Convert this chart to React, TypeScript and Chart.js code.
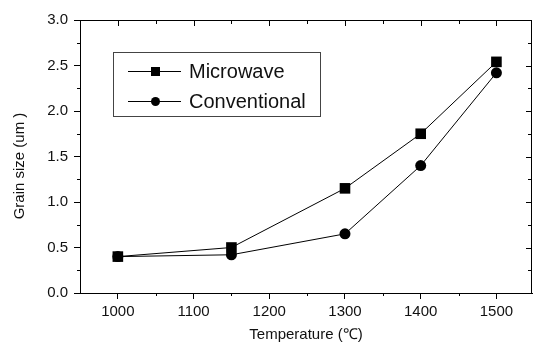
import React, { useEffect, useRef } from "react";
import { Chart, registerables } from "chart.js";

Chart.register(...registerables);

const temperatures = [1000, 1150, 1300, 1400, 1500];
const microwave = [0.4, 0.5, 1.15, 1.75, 2.54];
const conventional = [0.4, 0.42, 0.65, 1.4, 2.42];
const seriesLabels = ["Microwave", "Conventional"];
const xTickValues = [1000, 1100, 1200, 1300, 1400, 1500];
const xMinorValues = [950, 1050, 1150, 1250, 1350, 1450];
const yTickValues = [0, 0.5, 1.0, 1.5, 2.0, 2.5, 3.0];
const yMinorValues = [0.25, 0.75, 1.25, 1.75, 2.25, 2.75];
const xTitle = "Temperature (\u2103)";
const yTitle = "Grain size (um )";

const FONT = "'Liberation Sans', Arial, sans-serif";

const framePlugin = {
  id: "framePlugin",
  afterDraw(chart: any) {
    const ctx = chart.ctx;
    const { left, right, top, bottom } = chart.chartArea;
    const xs = chart.scales.x;
    const ys = chart.scales.y;
    ctx.save();
    ctx.strokeStyle = "#000";
    ctx.lineWidth = 1;
    ctx.beginPath();
    ctx.moveTo(left, top + 0.5);
    ctx.lineTo(right, top + 0.5);
    ctx.moveTo(right - 0.5, top);
    ctx.lineTo(right - 0.5, bottom);
    ctx.stroke();
    ctx.beginPath();
    xTickValues.forEach((v) => {
      const px = Math.round(xs.getPixelForValue(v)) + 0.5;
      ctx.moveTo(px, top);
      ctx.lineTo(px, top + 6);
    });
    xMinorValues.forEach((v) => {
      const px = Math.round(xs.getPixelForValue(v)) + 0.5;
      if (px <= left + 1 || px >= right - 1) return;
      ctx.moveTo(px, top);
      ctx.lineTo(px, top + 4);
      ctx.moveTo(px, bottom);
      ctx.lineTo(px, bottom + 3);
    });
    yTickValues.forEach((v) => {
      const py = Math.round(ys.getPixelForValue(v)) + 0.5;
      ctx.moveTo(right, py);
      ctx.lineTo(right - 6, py);
    });
    yMinorValues.forEach((v) => {
      const py = Math.round(ys.getPixelForValue(v)) + 0.5;
      ctx.moveTo(right, py);
      ctx.lineTo(right - 4, py);
      ctx.moveTo(left, py);
      ctx.lineTo(left - 3, py);
    });
    ctx.stroke();

    ctx.fillStyle = "#111";
    ctx.font = `15px ${FONT}`;
    ctx.textAlign = "center";
    ctx.textBaseline = "alphabetic";
    ctx.fillText(xTitle, (left + right) / 2, 339);
    ctx.save();
    ctx.translate(24, 166);
    ctx.rotate(-Math.PI / 2);
    ctx.fillText(yTitle, 0, 0);
    ctx.restore();

    const bx = 113, by = 52, bw = 207, bh = 64;
    ctx.strokeStyle = "#444";
    ctx.strokeRect(bx + 0.5, by + 0.5, bw, bh);
    const rows = [71, 101];
    chart.data.datasets.forEach((ds: any, i: number) => {
      const cy = rows[i];
      ctx.strokeStyle = "#000";
      ctx.beginPath();
      ctx.moveTo(128, cy + 0.5);
      ctx.lineTo(181, cy + 0.5);
      ctx.stroke();
      ctx.fillStyle = "#000";
      if (ds.pointStyle === "rect") {
        ctx.fillRect(151, cy - 4, 9, 9);
      } else {
        ctx.beginPath();
        ctx.arc(155.5, cy + 0.5, 4.5, 0, Math.PI * 2);
        ctx.fill();
      }
      ctx.fillStyle = "#111";
      ctx.font = `20px ${FONT}`;
      ctx.textAlign = "left";
      ctx.textBaseline = "middle";
      ctx.fillText(ds.label, 189, cy + 1);
    });
    ctx.restore();
  },
};

export default function App() {
  const canvasRef = useRef<HTMLCanvasElement | null>(null);

  useEffect(() => {
    document.body.style.margin = "0";
    const canvas = canvasRef.current;
    if (!canvas) return;
    const chart = new Chart(canvas, {
      type: "line",
      data: {
        datasets: [
          {
            label: seriesLabels[0],
            data: temperatures.map((t, i) => ({ x: t, y: microwave[i] })),
            borderColor: "#000",
            backgroundColor: "#000",
            borderWidth: 1,
            pointStyle: "rect",
            pointRadius: 7.5,
            pointBorderWidth: 0,
            tension: 0,
          },
          {
            label: seriesLabels[1],
            data: temperatures.map((t, i) => ({ x: t, y: conventional[i] })),
            borderColor: "#000",
            backgroundColor: "#000",
            borderWidth: 1,
            pointStyle: "circle",
            pointRadius: 5.5,
            pointBorderWidth: 0,
            tension: 0,
          },
        ],
      },
      options: {
        animation: false,
        responsive: false,
        maintainAspectRatio: false,
        layout: { autoPadding: false, padding: { top: 20, right: 2, left: 0, bottom: 0 } },
        plugins: {
          legend: { display: false },
          tooltip: { enabled: false },
        },
        scales: {
          x: {
            type: "linear",
            min: 950,
            max: 1547,
            afterBuildTicks: (scale: any) => {
              scale.ticks = xTickValues.map((v) => ({ value: v }));
            },
            afterFit: (scale: any) => {
              scale.height = 50;
              scale.paddingLeft = 0;
              scale.paddingRight = 0;
            },
            grid: {
              drawOnChartArea: false,
              drawTicks: true,
              tickLength: 6,
              color: "#000",
            },
            border: { display: true, color: "#000", width: 1 },
            ticks: {
              color: "#111",
              font: { family: FONT, size: 15 },
              padding: 4,
              maxRotation: 0,
              autoSkip: false,
              callback: (v: any) => String(v),
            },
          },
          y: {
            type: "linear",
            min: 0,
            max: 3,
            afterBuildTicks: (scale: any) => {
              scale.ticks = yTickValues.map((v) => ({ value: v }));
            },
            afterFit: (scale: any) => {
              scale.width = 80;
              scale.paddingTop = 0;
              scale.paddingBottom = 0;
            },
            grid: {
              drawOnChartArea: false,
              drawTicks: true,
              tickLength: 6,
              color: "#000",
            },
            border: { display: true, color: "#000", width: 1 },
            ticks: {
              color: "#111",
              font: { family: FONT, size: 15 },
              padding: 6,
              autoSkip: false,
              callback: (v: any) => Number(v).toFixed(1),
            },
          },
        },
      },
      plugins: [framePlugin],
    });
    return () => chart.destroy();
  }, []);

  return (
    <div style={{ position: "fixed", left: 0, top: 0, width: 534, height: 343, background: "#fff" }}>
      <canvas ref={canvasRef} width={534} height={343} />
    </div>
  );
}
